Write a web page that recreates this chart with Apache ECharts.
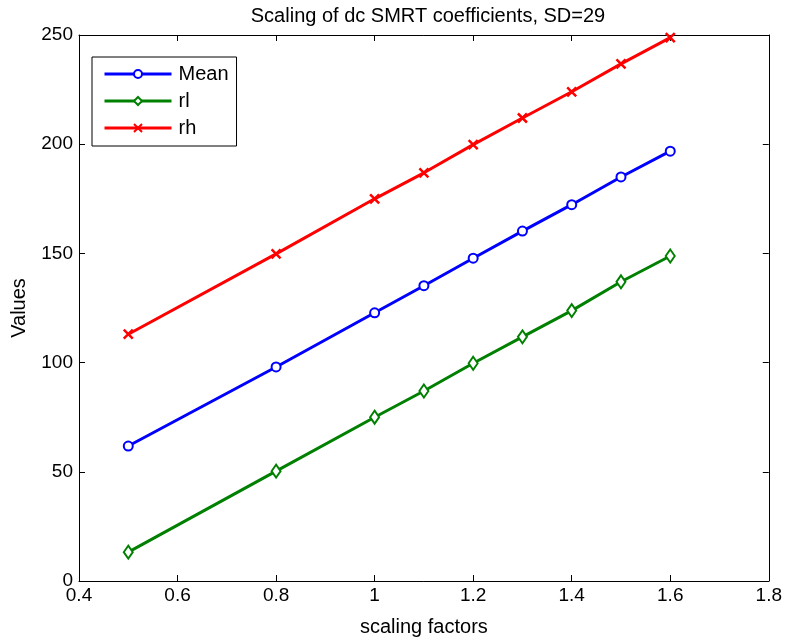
<!DOCTYPE html>
<html>
<head>
<meta charset="utf-8">
<script src="https://cdn.jsdelivr.net/npm/echarts@6/dist/echarts.min.js"></script>
<style>
html,body{margin:0;padding:0;background:#fff;}
#main{width:785px;height:644px;}
</style>
</head>
<body>
<div id="main"></div>
<script>
var scalingFactors = [0.5, 0.8, 1.0, 1.1, 1.2, 1.3, 1.4, 1.5, 1.6];
var meanValues = [61.8, 98, 122.8, 135.2, 147.8, 160.2, 172.3, 185, 196.8];
var rlValues = [13.2, 50.3, 75, 87, 99.7, 111.8, 123.8, 137, 148.8];
var rhValues = [113, 149.8, 175, 186.9, 199.8, 212, 224, 236.8, 248.8];
var seriesNames = ['Mean', 'rl', 'rh'];
var titleText = 'Scaling of dc SMRT coefficients, SD=29';
var xAxisName = 'scaling factors';
var yAxisName = 'Values';

var FONT = "'Liberation Sans', Arial, sans-serif";

function pairs(xs, ys) { return xs.map(function (x, i) { return [x, ys[i]]; }); }

var chart = echarts.init(document.getElementById('main'));
var axisCommon = {
  axisLine: { show: true, onZero: false, lineStyle: { color: '#000', width: 1 } },
  axisTick: { show: true, inside: true, length: 6, lineStyle: { color: '#000' } },
  splitLine: { show: false }
};
chart.setOption({
  backgroundColor: '#fff',
  animation: false,
  title: {
    text: titleText, left: 423, textAlign: 'center', top: 1,
    textStyle: { fontFamily: FONT, fontSize: 20, fontWeight: 'normal', color: '#000' }
  },
  legend: {
    orient: 'vertical', left: 92, top: 57,
    backgroundColor: '#fff', borderColor: '#000', borderWidth: 1,
    padding: [7, 8, 8, 11], itemGap: 7, itemWidth: 67, itemHeight: 10,
    lineStyle: { width: 3 },
    textStyle: { fontFamily: FONT, fontSize: 20, color: '#000', padding: [0, 0, 0, 2] },
    data: seriesNames
  },
  grid: { left: 79, right: 14, top: 35, bottom: 63, containLabel: false },
  xAxis: [
    Object.assign({
      type: 'value', min: 0.4, max: 1.8, interval: 0.2, position: 'bottom',
      name: xAxisName, nameLocation: 'middle', nameGap: 36,
      nameTextStyle: { fontFamily: FONT, fontSize: 20, color: '#000' },
      axisLabel: { fontFamily: FONT, fontSize: 19, color: '#000', margin: 5,
        formatter: function (v) { return String(+v.toFixed(1)); } }
    }, axisCommon),
    Object.assign({
      type: 'value', min: 0.4, max: 1.8, interval: 0.2, position: 'top',
      axisLabel: { show: false }
    }, axisCommon)
  ],
  yAxis: [
    Object.assign({
      type: 'value', min: 0, max: 250, interval: 50, position: 'left',
      name: yAxisName, nameLocation: 'middle', nameGap: 50,
      nameTextStyle: { fontFamily: FONT, fontSize: 20, color: '#000' },
      axisLabel: { fontFamily: FONT, fontSize: 19, color: '#000', margin: 6 }
    }, axisCommon),
    Object.assign({
      type: 'value', min: 0, max: 250, interval: 50, position: 'right',
      axisLabel: { show: false }
    }, axisCommon)
  ],
  series: [
    {
      name: seriesNames[0], type: 'line', data: pairs(scalingFactors, meanValues),
      symbol: 'emptyCircle', symbolSize: 9, showAllSymbol: true,
      lineStyle: { color: '#0000ff', width: 3 },
      itemStyle: { color: '#0000ff', borderColor: '#0000ff', borderWidth: 2 }
    },
    {
      name: seriesNames[1], type: 'line', data: pairs(scalingFactors, rlValues),
      symbol: 'emptyDiamond', symbolSize: [9, 13], showAllSymbol: true,
      lineStyle: { color: '#008000', width: 3 },
      itemStyle: { color: '#008000', borderColor: '#008000', borderWidth: 2 }
    },
    {
      name: seriesNames[2], type: 'line', data: pairs(scalingFactors, rhValues),
      symbol: 'path://M0,0L10,10M10,0L0,10', symbolSize: 9, showAllSymbol: true,
      lineStyle: { color: '#ff0000', width: 3 },
      itemStyle: { color: '#ff0000', borderColor: '#ff0000', borderWidth: 2.5 }
    }
  ]
});
</script>
</body>
</html>
